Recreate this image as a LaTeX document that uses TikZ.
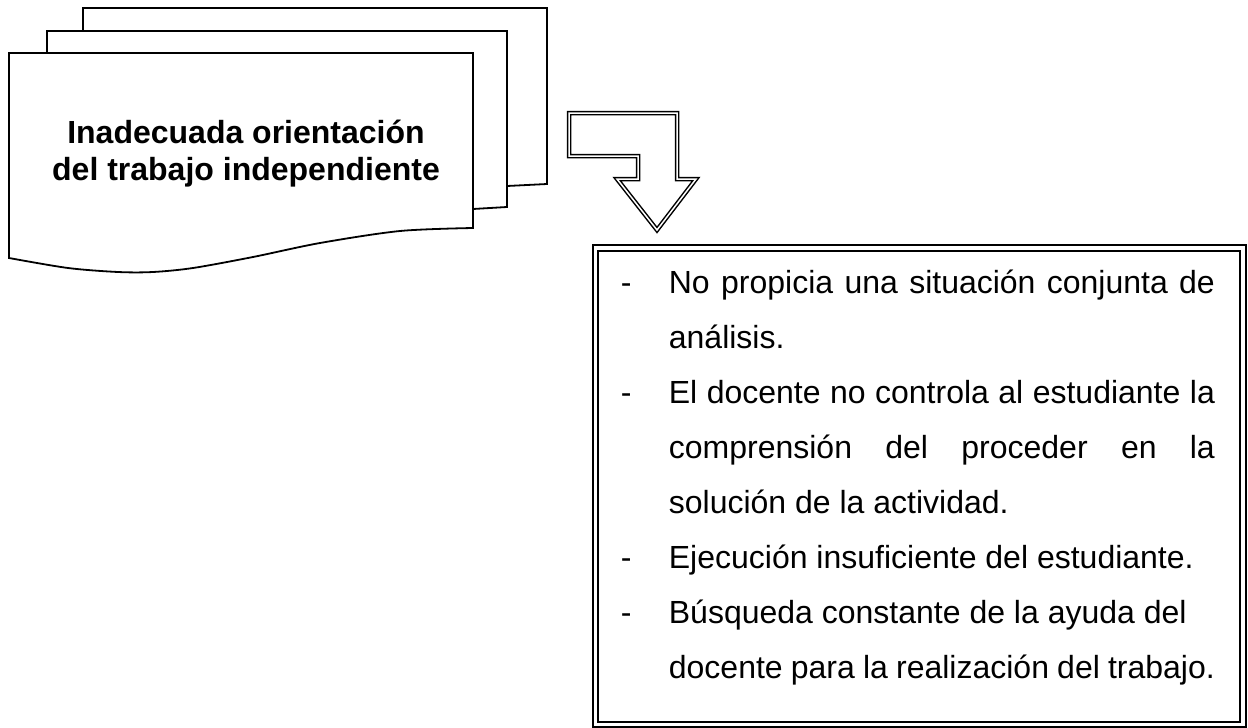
\documentclass[tikz,border=0pt]{standalone}
\usepackage{fontspec}
\setmainfont{Liberation Sans}
\usepackage{tikz}
\newcommand{\guion}{\par\hangindent=24pt\hangafter=1\noindent\makebox[24pt][l]{-}}

\begin{document}
\begin{tikzpicture}[x=0.5pt,y=-0.5pt,line width=0.9pt,
    hoja/.style={draw,fill=white,line join=miter},
    titulo/.style={align=center,inner sep=0pt,anchor=north,
      font=\fontsize{16pt}{18.5pt}\selectfont\bfseries},
    lista/.style={text width=297pt,align=justify,inner sep=0pt,anchor=north west,
      font=\fontsize{16pt}{27.5pt}\selectfont}]
  \useasboundingbox (0,0) rectangle (1248,728);
  % hojas apiladas
  \draw[hoja] (83,8) -- (547,8) -- (547,184) -- (507,186) -- (83,205) -- cycle;
  \draw[hoja] (47,31) -- (507,31) -- (507,207) -- (473,209) -- (47,232) -- cycle;
  \draw[hoja] (9,258) -- (9,53) -- (473,53) -- plot[smooth] coordinates {(473,228)
    (400,231) (320,243) (253,257) (193,268) (153,272) (118,272) (68,268) (9,258)} -- cycle;
  \node[titulo] (causa) at (246,117) {\strut Inadecuada orientación\\del trabajo independiente};
  % flecha
  \draw[double,double distance=0.75pt,line width=0.75pt,line join=miter] (569,113) -- (677,113)
    -- (677,179) -- (696,179) -- (657,230) -- (617,179) -- (638,179) -- (638,156) -- (569,156) -- cycle;
  % recuadro doble
  \draw[line width=1.2pt] (593,245) rectangle (1246,727);
  \draw[line width=0.7pt] (598,251) rectangle (1240,722);
  \node[lista] (efectos) at (620,237.5) {\guion\strut No propicia una situación conjunta de\linebreak
    análisis.\guion El docente no controla al estudiante la\linebreak
    comprensión del proceder en la\linebreak solución de la actividad.\guion
    Ejecución insuficiente del estudiante.\guion Búsqueda constante de la ayuda del\hfil\break
    docente para la realización del trabajo.\par};
\end{tikzpicture}
\end{document}
